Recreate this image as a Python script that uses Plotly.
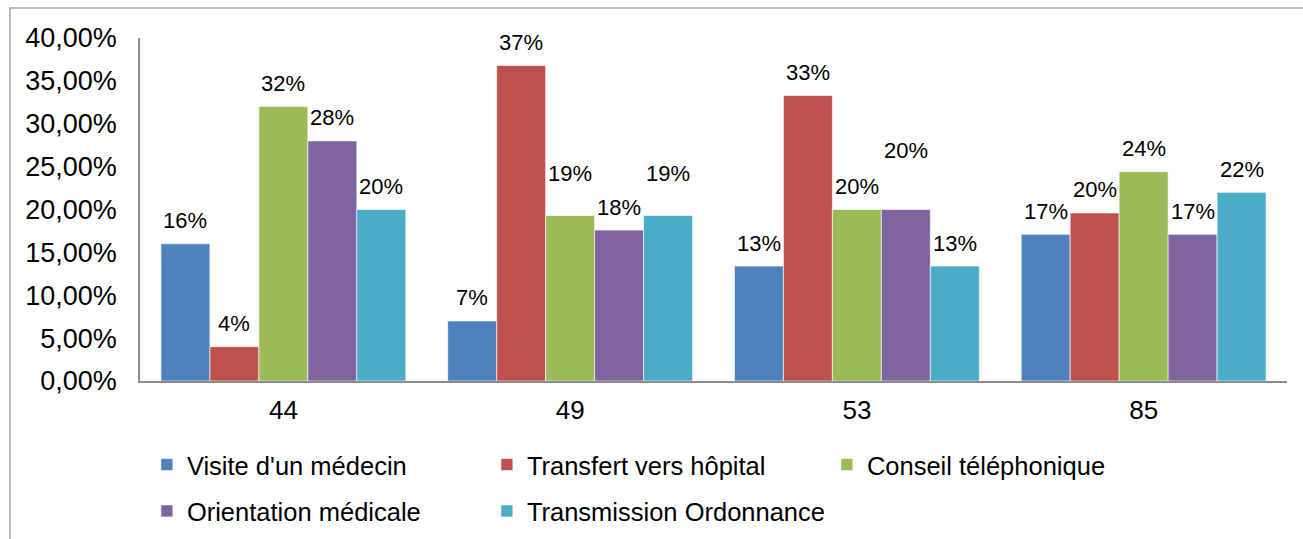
import plotly.graph_objects as go

categories = ["44", "49", "53", "85"]
series_names = ["Visite d'un médecin", "Transfert vers hôpital", "Conseil téléphonique",
                "Orientation médicale", "Transmission Ordonnance"]
visite = [0.160, 0.070, 0.134, 0.171]
transfert = [0.040, 0.368, 0.333, 0.196]
conseil = [0.320, 0.193, 0.200, 0.244]
orientation = [0.280, 0.176, 0.200, 0.171]
transmission = [0.200, 0.193, 0.134, 0.220]
y_ticks = [0, 0.05, 0.10, 0.15, 0.20, 0.25, 0.30, 0.35, 0.40]

series_values = [visite, transfert, conseil, orientation, transmission]
colors = ["#4F81BD", "#C0504D", "#9BBB59", "#8064A2", "#4BACC6"]
# extra label lift (px) for the labels Excel placed higher
extra_lift = {(2, 1): 19, (4, 1): 19, (3, 2): 36}

W, H = 1303, 539
ml, mr, mt, mb = 140, 16, 38, 158
bargap = 0.146
plot_w = W - ml - mr
plot_h = H - mt - mb
cat_w = plot_w / len(categories)
bar_w = cat_w * (1 - bargap) / len(series_values)

fig = go.Figure()
annotations = []
for i, (name, vals, col) in enumerate(zip(series_names, series_values, colors)):
    fig.add_trace(go.Bar(
        x=categories, y=vals, name=name,
        marker=dict(color=col, line=dict(color="rgba(255,255,255,0.8)", width=0.8)),
        legend="legend" if i < 3 else "legend2",
        hoverinfo="skip",
    ))
    for j, v in enumerate(vals):
        annotations.append(dict(
            x=j, y=v, xref="x", yref="y",
            text=f"{round(v * 100)}%", showarrow=False,
            xshift=(i - (len(series_values) - 1) / 2) * bar_w,
            yshift=23 + extra_lift.get((i, j), 0),
            yanchor="middle", xanchor="center",
            font=dict(size=22, color="#000000"),
        ))

fig.update_layout(
    width=W, height=H,
    margin=dict(l=ml, r=mr, t=mt, b=mb, autoexpand=False),
    paper_bgcolor="white", plot_bgcolor="white",
    barmode="group", bargap=bargap, bargroupgap=0,
    separators=", ",
    font=dict(family="Liberation Sans, Arial, sans-serif", color="#000000"),
    annotations=annotations,
    xaxis=dict(
        type="category", categoryorder="array", categoryarray=categories,
        range=[-0.5, len(categories) - 0.5],
        showline=True, linecolor="#8C8C8C", linewidth=1.5,
        showgrid=False, ticks="", tickfont=dict(size=26), ticklabelstandoff=5,
        fixedrange=True,
    ),
    yaxis=dict(
        range=[0, 0.4], tickvals=y_ticks, tickformat=".2%",
        showline=True, linecolor="#8C8C8C", linewidth=1.5,
        showgrid=False, zeroline=False, ticks="", tickfont=dict(size=27),
        ticklabelstandoff=16, fixedrange=True,
    ),
    legend=dict(
        orientation="h", x=0.006, y=-0.245, xanchor="left", yanchor="middle",
        font=dict(size=25.5), entrywidth=295, entrywidthmode="pixels",
        bgcolor="rgba(0,0,0,0)", traceorder="normal",
    ),
    legend2=dict(
        orientation="h", x=0.006, y=-0.38, xanchor="left", yanchor="middle",
        font=dict(size=25.5), entrywidth=295, entrywidthmode="pixels",
        bgcolor="rgba(0,0,0,0)", traceorder="normal",
    ),
    shapes=[dict(
        type="rect", xref="paper", yref="paper",
        x0=(10 - ml) / plot_w, x1=(W + 20 - ml) / plot_w,
        y0=-(mb + 20) / plot_h, y1=(plot_h + mt - 8) / plot_h,
        line=dict(color="#A6A6A6", width=1.5), fillcolor="rgba(0,0,0,0)", layer="below",
    )],
    showlegend=True,
)

fig.write_html(
    "out.html",
    config={"displayModeBar": False},
    post_script="document.body.style.margin='0';document.body.style.overflow='hidden';",
)
